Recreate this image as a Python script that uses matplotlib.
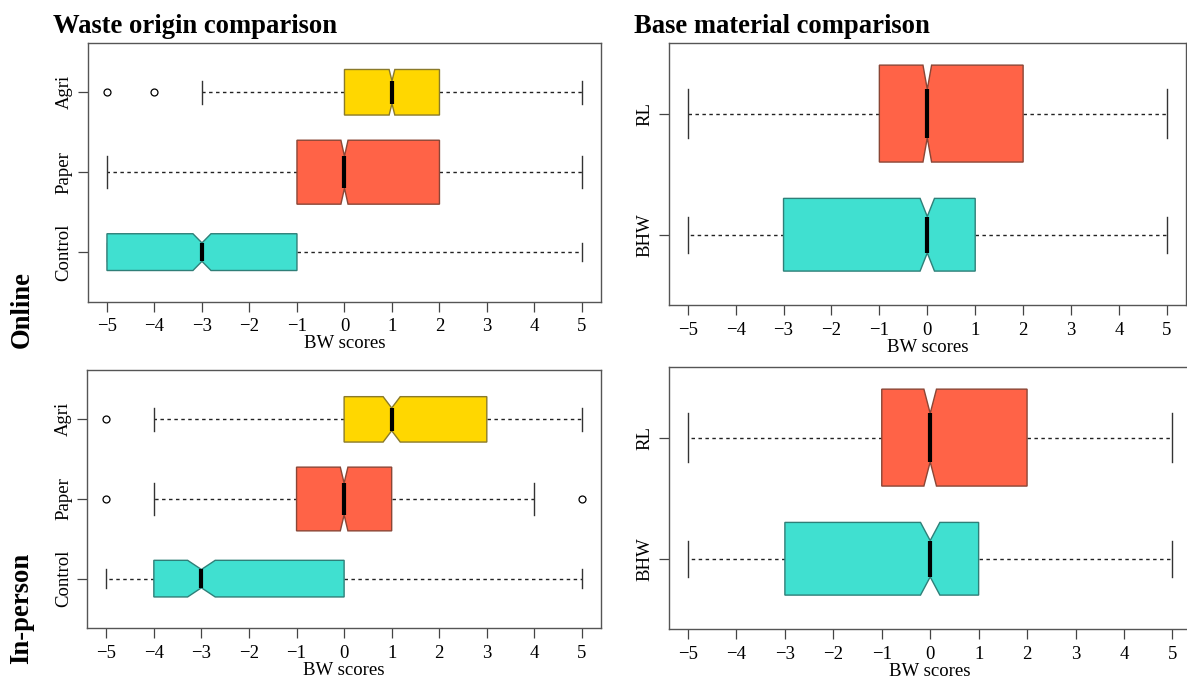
import matplotlib.pyplot as plt

plt.rcParams['font.family'] = ['Liberation Serif', 'DejaVu Serif']

# five-number summaries, notch limits and outliers for each group
origin_groups = ['Control', 'Paper', 'Agri']
origin_colors = ['#40E0D0', '#FF6347', '#FFD700']
origin_edges = ['#2f7f78', '#8a4636', '#8a7a2a']
origin_widths = [0.46, 0.80, 0.57]

online_origin_whislo = [-5, -5, -3]
online_origin_q1 = [-5, -1, 0]
online_origin_med = [-3, 0, 1]
online_origin_q3 = [-1, 2, 2]
online_origin_whishi = [5, 5, 5]
online_origin_notch = [0.19, 0.075, 0.06]
online_origin_fliers = [[], [], [-5, -4]]

person_origin_whislo = [-5, -4, -4]
person_origin_q1 = [-4, -1, 0]
person_origin_med = [-3, 0, 1]
person_origin_q3 = [0, 1, 3]
person_origin_whishi = [5, 4, 5]
person_origin_notch = [0.29, 0.08, 0.18]
person_origin_fliers = [[], [-5, 5], [-5]]

base_groups = ['BHW', 'RL']
base_colors = ['#40E0D0', '#FF6347']
base_edges = ['#2f7f78', '#8a4636']
base_widths = [0.60, 0.80]

online_base_whislo = [-5, -5]
online_base_q1 = [-3, -1]
online_base_med = [0, 0]
online_base_q3 = [1, 2]
online_base_whishi = [5, 5]
online_base_notch = [0.15, 0.09]

person_base_whislo = [-5, -5]
person_base_q1 = [-3, -1]
person_base_med = [0, 0]
person_base_q3 = [1, 2]
person_base_whishi = [5, 5]
person_base_notch = [0.2, 0.13]

xticks = [-5, -4, -3, -2, -1, 0, 1, 2, 3, 4, 5]


def make_stats(whislo, q1, med, q3, whishi, notch, fliers=None):
    stats = []
    for i in range(len(med)):
        stats.append({
            'whislo': whislo[i], 'q1': q1[i], 'med': med[i], 'q3': q3[i], 'whishi': whishi[i],
            'cilo': med[i] - notch[i], 'cihi': med[i] + notch[i],
            'fliers': fliers[i] if fliers is not None else [],
        })
    return stats


def draw_panel(ax, stats, groups, colors, edges, widths):
    n = len(groups)
    pos = list(range(1, n + 1))
    bp = ax.bxp(stats, positions=pos, widths=widths, capwidths=[w / 2 for w in widths],
                orientation='horizontal', shownotches=True, patch_artist=True,
                boxprops=dict(linewidth=1.0, zorder=3),
                whiskerprops=dict(color='#222222', linewidth=1.0, linestyle=(0, (2.5, 2.5)), zorder=2),
                capprops=dict(color='#333333', linewidth=1.0, zorder=2),
                medianprops=dict(color='black', linewidth=3.0, solid_capstyle='butt', zorder=4),
                flierprops=dict(marker='o', markersize=5, markerfacecolor='none',
                                markeredgecolor='black', markeredgewidth=0.9))
    for patch, c, e in zip(bp['boxes'], colors, edges):
        patch.set_facecolor(c)
        patch.set_edgecolor(e)

    ax.set_xlim(-5.4, 5.4)
    ax.set_ylim(0.5 - 0.04 * n, n + 0.5 + 0.04 * n)
    ax.set_xticks(xticks)
    ax.set_yticks(pos)
    ax.set_yticklabels(groups, rotation=90, va='center')
    ax.tick_params(axis='both', direction='out', length=7, width=0.9, color='#444444',
                   labelsize=13.5, pad=5)
    ax.tick_params(axis='y', pad=4)
    for s in ax.spines.values():
        s.set_color('#555555')
        s.set_linewidth(1.0)
    ax.set_xlabel('BW scores', fontsize=13.5, labelpad=0)


fig = plt.figure(figsize=(11.87, 6.79), dpi=100)

ax_tl = fig.add_axes([0.0741, 0.5557, 0.4322, 0.3814])
ax_tr = fig.add_axes([0.5632, 0.5508, 0.4360, 0.3854])
ax_bl = fig.add_axes([0.0735, 0.0751, 0.4328, 0.3800])
ax_br = fig.add_axes([0.5633, 0.0736, 0.4407, 0.3854])

draw_panel(ax_tl, make_stats(online_origin_whislo, online_origin_q1, online_origin_med,
                             online_origin_q3, online_origin_whishi, online_origin_notch,
                             online_origin_fliers),
           origin_groups, origin_colors, origin_edges, origin_widths)
draw_panel(ax_bl, make_stats(person_origin_whislo, person_origin_q1, person_origin_med,
                             person_origin_q3, person_origin_whishi, person_origin_notch,
                             person_origin_fliers),
           origin_groups, origin_colors, origin_edges, origin_widths)
draw_panel(ax_tr, make_stats(online_base_whislo, online_base_q1, online_base_med,
                             online_base_q3, online_base_whishi, online_base_notch),
           base_groups, base_colors, base_edges, base_widths)
draw_panel(ax_br, make_stats(person_base_whislo, person_base_q1, person_base_med,
                             person_base_q3, person_base_whishi, person_base_notch),
           base_groups, base_colors, base_edges, base_widths)

fig.text(0.0447, 0.951, 'Waste origin comparison', fontsize=19.2, fontweight='bold',
         ha='left', va='baseline')
fig.text(0.5345, 0.951, 'Base material comparison', fontsize=19.2, fontweight='bold',
         ha='left', va='baseline')
fig.text(0.0185, 0.5435, 'Online', fontsize=19.2, fontweight='bold', rotation=90,
         ha='center', va='center')
fig.text(0.0185, 0.1046, 'In-person', fontsize=19.2, fontweight='bold', rotation=90,
         ha='center', va='center')

fig.savefig('out.png', dpi=100)
